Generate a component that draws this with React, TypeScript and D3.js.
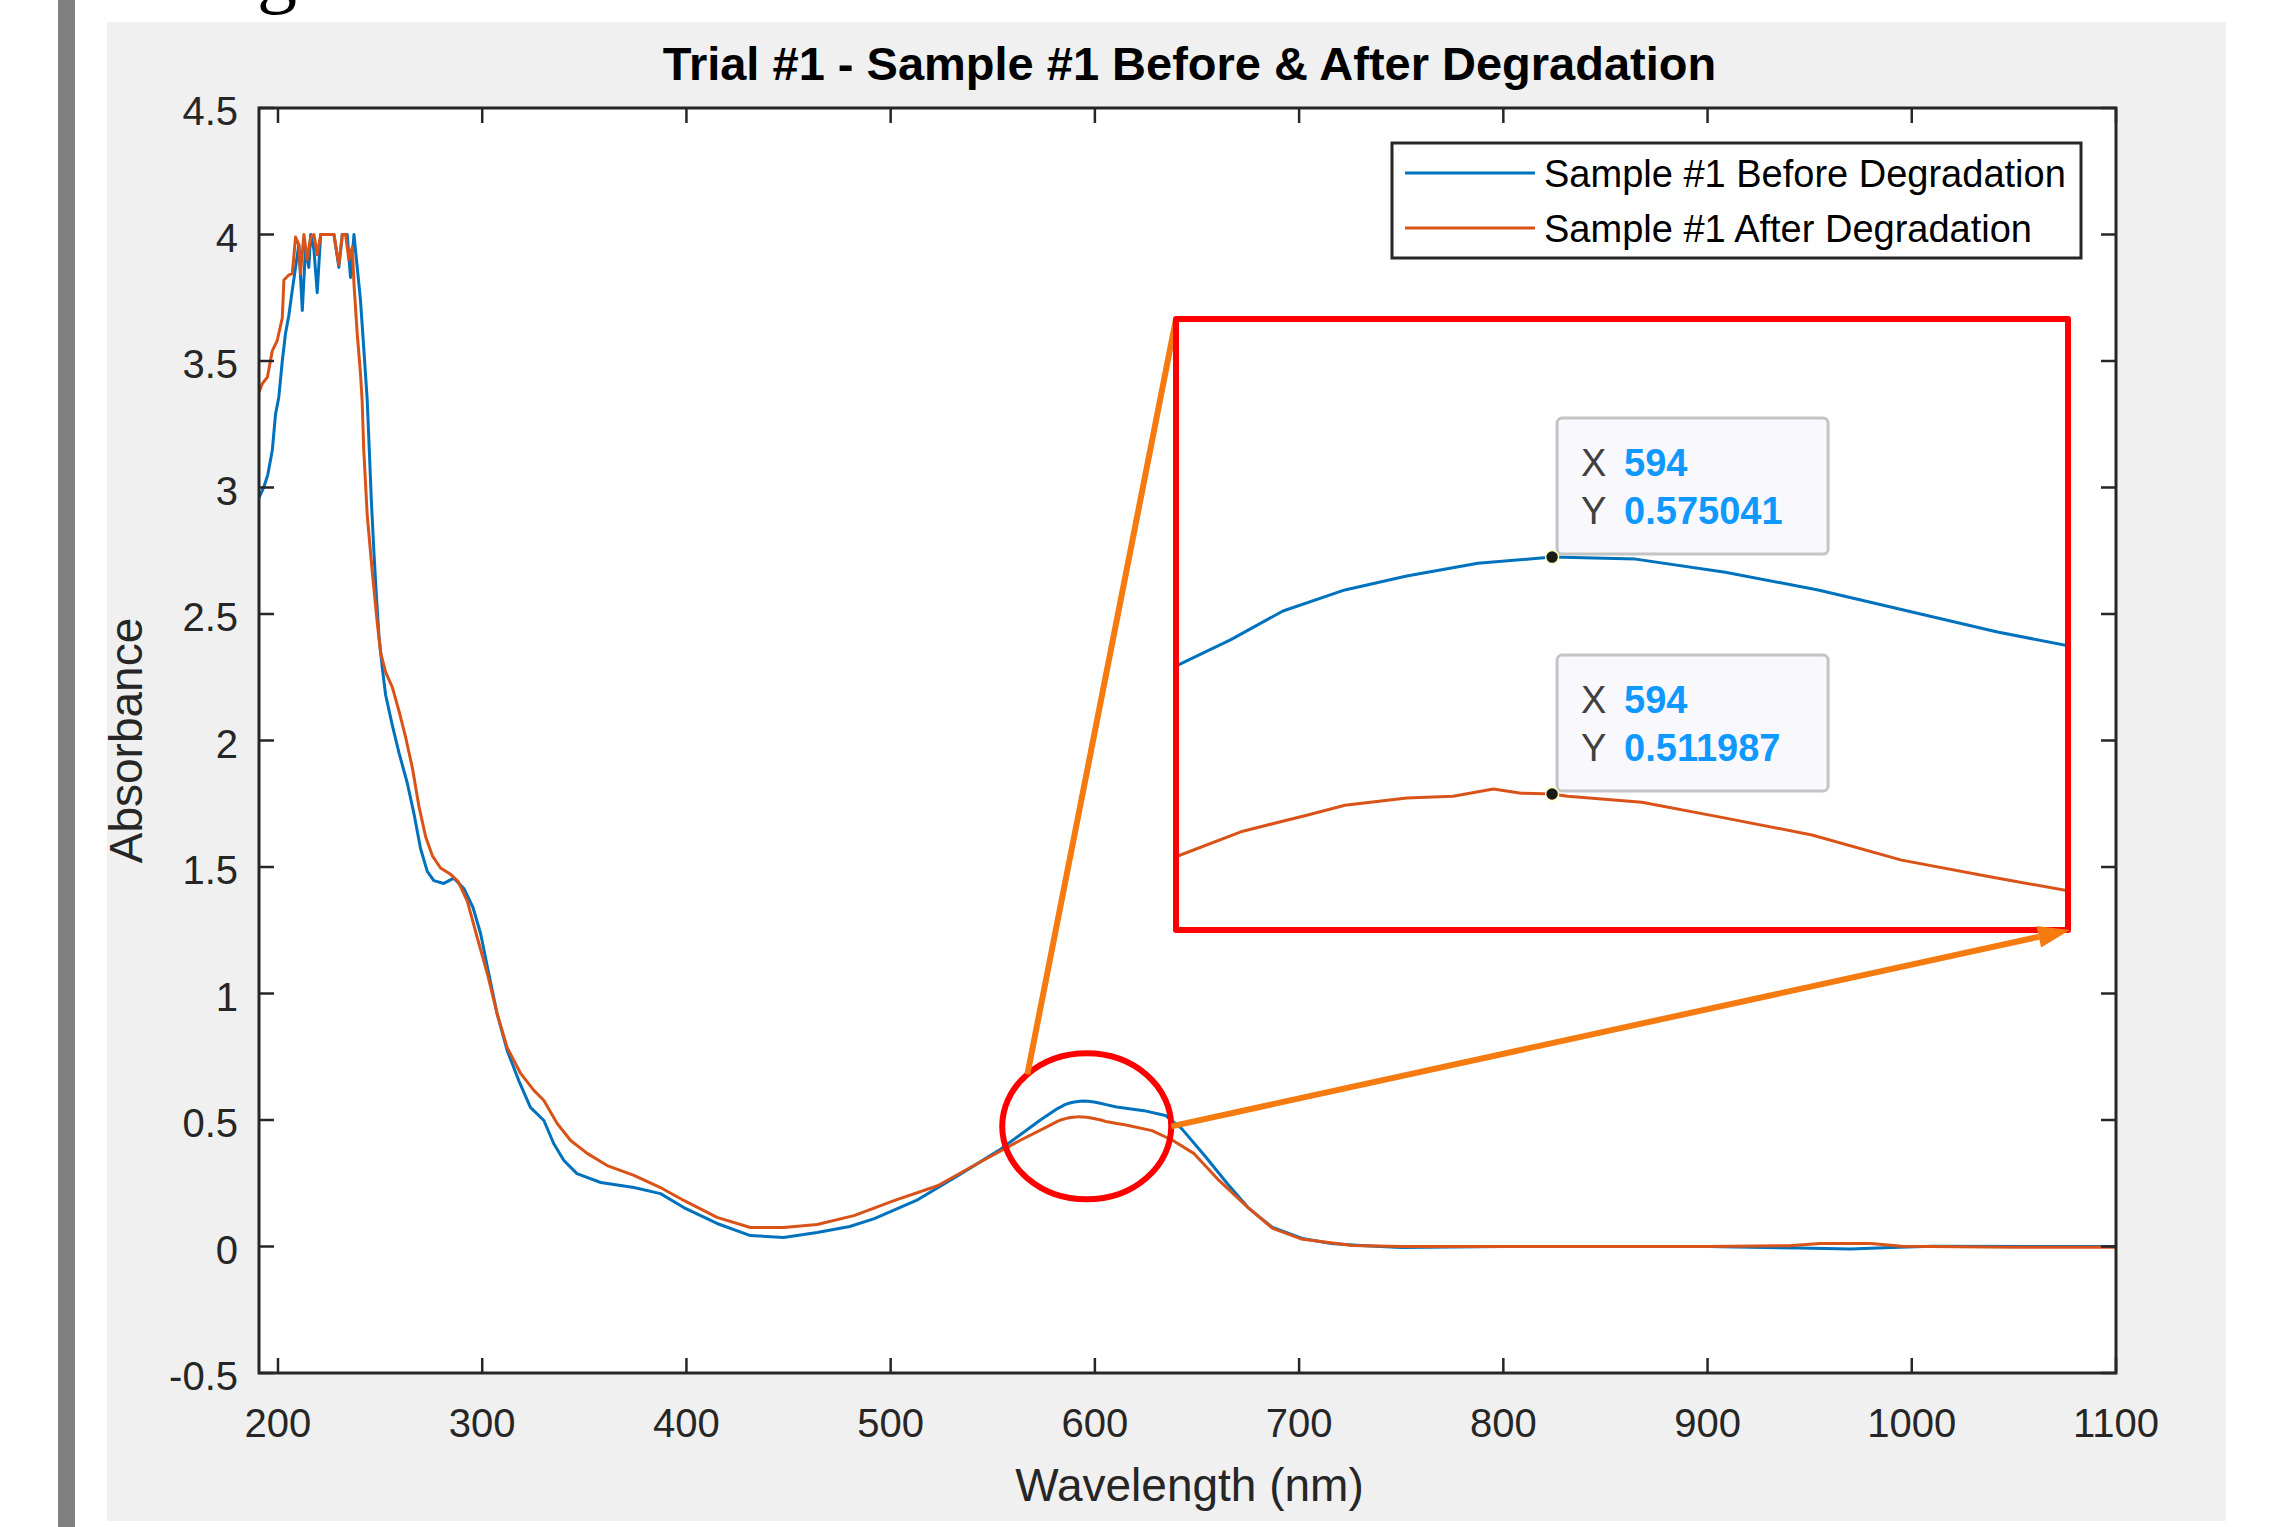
import React from 'react';
import * as d3 from 'd3';

// ---------- text ----------
const chartTitle = 'Trial #1 - Sample #1 Before & After Degradation';
const xAxisLabel = 'Wavelength (nm)';
const yAxisLabel = 'Absorbance';
const seriesNames = ['Sample #1 Before Degradation', 'Sample #1 After Degradation'];
const seriesColors = ['#0072BD', '#D95319'];

// ---------- ticks ----------
const xTicks = [200, 300, 400, 500, 600, 700, 800, 900, 1000, 1100];
const xTickLabels = ['200', '300', '400', '500', '600', '700', '800', '900', '1000', '1100'];
const yTicks = [-0.5, 0, 0.5, 1, 1.5, 2, 2.5, 3, 3.5, 4, 4.5];
const yTickLabels = ['-0.5', '0', '0.5', '1', '1.5', '2', '2.5', '3', '3.5', '4', '4.5'];

// ---------- series: before degradation ----------
const beforeWavelength = [
  190.7, 193, 195, 197.2, 198.8, 200.4, 202.1, 203.7, 205.3, 207, 208.6, 210.2, 211.9, 213.5, 215.1, 216,
  217.6, 219.2, 220.9, 227.4, 229.8, 231.5, 233.9, 235.5, 237.2, 238.8, 240.4, 242, 243.7, 244.5, 245.7,
  247, 248.3, 249.5, 251.1, 252.7, 256, 259.2, 263.3, 266.6, 269.8, 273.1, 276.3, 281.2, 286.1, 291,
  295.5, 299.2, 303.2, 307.3, 312.2, 317.9, 323.6, 330.2, 335, 340, 346.4, 358, 374.3, 387.3, 398.7,
  415, 431.3, 447.6, 464, 480, 492, 512.6, 532.9, 553, 573.3,
  581.9, 583.6, 585.3, 587.3, 589.3, 591.6, 594, 596.7, 599.6, 602.6, 605.5, 608.4, 610.7,
  624, 634.5, 642.5, 654.5, 664.8, 675, 687, 701.5, 715.7, 730, 750, 800, 850, 900, 945, 970, 990, 1010, 1100,
];
const beforeAbsorbance = [
  2.96, 3.0, 3.05, 3.146, 3.29, 3.357, 3.5, 3.61, 3.68, 3.78, 3.87, 3.96, 3.7, 3.95, 3.87, 4.0,
  3.94, 3.77, 4.0, 4.0, 3.87, 4.0, 4.0, 3.83, 4.0, 3.87, 3.74, 3.55, 3.344, 3.19, 2.95,
  2.74, 2.557, 2.407, 2.285, 2.18, 2.06, 1.953, 1.832, 1.71, 1.573, 1.483, 1.446, 1.435, 1.456, 1.415,
  1.34, 1.237, 1.079, 0.92, 0.775, 0.656, 0.55, 0.498, 0.407, 0.34, 0.288, 0.253, 0.233, 0.209, 0.154,
  0.091, 0.043, 0.036, 0.055, 0.079, 0.11, 0.182, 0.28, 0.38, 0.5,
  0.5463, 0.553, 0.5607, 0.5663, 0.57, 0.5734, 0.575041, 0.5745, 0.571, 0.5663, 0.5607, 0.5551, 0.5514,
  0.537, 0.518, 0.466, 0.352, 0.249, 0.154, 0.075, 0.032, 0.012, 0.004, -0.004, 0, 0, 0, -0.006, -0.01, -0.004, 0.001, 0,
];

// ---------- series: after degradation ----------
const afterWavelength = [
  190.7, 192.3, 194.8, 197.2, 199.6, 202.1, 202.9, 205.3, 207, 208.6, 210.2, 211, 212.7, 214.3, 216,
  217.6, 219.2, 220.9, 227.4, 229.8, 231.5, 233.1, 234.7, 236.4, 237.2, 238.8, 240.4, 241.2, 242,
  243.7, 246.2, 248.6, 250.3, 252.7, 256, 259.2, 262.5, 265.8, 269, 272.3, 275.6, 279.6, 284.5, 288.2,
  292.7, 297.6, 302.5, 307.3, 312.2, 318.8, 325.3, 330.2, 336.7, 343.3, 351.4, 361.2, 374.3, 387.3,
  398.7, 415, 431.3, 447.6, 464, 482, 502, 523, 543, 563.5, 577.7,
  581.9, 584.0, 586.1, 587.3, 589.3, 590.8, 592.1, 593.0, 594, 594.5, 596.9, 599.4, 602.4, 605.3, 608.2, 610.7,
  614, 628, 638, 648.6, 660.9, 675, 687, 701, 726, 750, 800, 900, 940, 955, 980, 995, 1050, 1100,
];
const afterAbsorbance = [
  3.377, 3.41, 3.436, 3.54, 3.58, 3.67, 3.82, 3.84, 3.845, 3.99, 3.96, 3.845, 4.0, 3.9, 3.99,
  4.0, 3.92, 4.0, 4.0, 3.88, 4.0, 4.0, 3.9, 3.95, 3.805, 3.607, 3.45, 3.344, 3.146,
  2.89, 2.664, 2.466, 2.345, 2.27, 2.21, 2.118, 2.013, 1.892, 1.74, 1.62, 1.544, 1.496, 1.471, 1.443,
  1.365, 1.22, 1.079, 0.92, 0.787, 0.684, 0.617, 0.577, 0.486, 0.419, 0.368, 0.32, 0.281, 0.233,
  0.182, 0.115, 0.075, 0.075, 0.087, 0.122, 0.182, 0.24, 0.33, 0.42, 0.478,
  0.4955, 0.5021, 0.5064, 0.509, 0.5109, 0.5114, 0.5133, 0.5122, 0.511987, 0.5114, 0.5098, 0.5059, 0.5011, 0.4944, 0.4899, 0.4862,
  0.482, 0.458, 0.42, 0.367, 0.26, 0.154, 0.072, 0.03, 0.004, 0, 0, 0, 0.003, 0.012, 0.012, 0.001, -0.003, -0.003,
];

// ---------- data tips ----------
const datatipX = [594, 594];
const datatipY = [0.575041, 0.511987];
const datatipXLabels = ['594', '594'];
const datatipYLabels = ['0.575041', '0.511987'];

const FONT = "'Liberation Sans', Arial, Helvetica, sans-serif";

export default function App() {
  const W = 2280;
  const H = 1527;
  const pl = 259, pr = 2116, pt = 108, pb = 1373;

  const x = d3.scaleLinear().domain([190.7, 1100]).range([pl, pr]);
  const y = d3.scaleLinear().domain([-0.5, 4.5]).range([pb, pt]);

  // inset (zoomed) axes
  const ir = { x0: 1176, y0: 319, x1: 2068, y1: 930 };
  const ix = d3.scaleLinear().domain([581.84, 610.68]).range([ir.x0, ir.x1]);
  const iy = d3.scaleLinear().domain([0.4758, 0.6384]).range([ir.y1, ir.y0]);

  const series = [
    { wl: beforeWavelength, ab: beforeAbsorbance, color: seriesColors[0] },
    { wl: afterWavelength, ab: afterAbsorbance, color: seriesColors[1] },
  ];

  const mainLine = (s) =>
    d3.line<number>().x((_, i) => x(s.wl[i])).y((v) => y(v))(s.ab) || '';
  const insetLine = (s) =>
    d3.line<number>().x((_, i) => ix(s.wl[i])).y((v) => iy(v))(s.ab) || '';

  const tickLen = 15;
  const axisColor = '#262626';

  // annotation ellipse around the peak
  const ecx = x(596);
  const ecy = y(0.475);
  const erx = 84.5;
  const ery = 73;
  const theta = (-134.6 * Math.PI) / 180;
  const l1s = [ecx + erx * Math.cos(theta), ecy + ery * Math.sin(theta)];
  const l1e = [ir.x0, ir.y0];
  const l2s = [ecx + erx, ecy];
  const l2e = [ir.x1 + 2, ir.y1];
  const ang = Math.atan2(l2e[1] - l2s[1], l2e[0] - l2s[0]);
  const ahL = 32, ahW = 11;
  const ahBase = [l2e[0] - ahL * Math.cos(ang), l2e[1] - ahL * Math.sin(ang)];
  const arrowPts = [
    l2e,
    [ahBase[0] + ahW * Math.sin(ang), ahBase[1] - ahW * Math.cos(ang)],
    [ahBase[0] - ahW * Math.sin(ang), ahBase[1] + ahW * Math.cos(ang)],
  ]
    .map((p) => p.join(','))
    .join(' ');
  const annoOrange = '#F57A0F';

  return (
    <svg
      width={W}
      height={H}
      viewBox={`0 0 ${W} ${H}`}
      style={{ position: 'absolute', left: 0, top: 0, background: '#ffffff' }}
      fontFamily={FONT}
    >
      <defs>
        <clipPath id="mainClip">
          <rect x={pl} y={pt} width={pr - pl} height={pb - pt} />
        </clipPath>
        <clipPath id="insetClip">
          <rect x={ir.x0} y={ir.y0} width={ir.x1 - ir.x0} height={ir.y1 - ir.y0} />
        </clipPath>
      </defs>

      <rect x={0} y={0} width={W} height={H} fill="#ffffff" />
      {/* document remnants */}
      <text x={257} y={-2} fontFamily="'Liberation Serif', 'Times New Roman', serif" fontSize={80} fill="#000">
        g
      </text>
      <rect x={58} y={0} width={17} height={H} fill="#808080" />

      {/* figure panel */}
      <rect x={107} y={22} width={2119} height={1499} fill="#f0f0f0" />

      {/* axes background */}
      <rect x={pl} y={pt} width={pr - pl} height={pb - pt} fill="#ffffff" />

      {/* title */}
      <text x={(pl + pr) / 2 + 2} y={80} textAnchor="middle" fontSize={47} fontWeight="bold" fill="#000">
        {chartTitle}
      </text>

      {/* data lines */}
      <g clipPath="url(#mainClip)">
        {series.map((s, i) => (
          <path key={i} d={mainLine(s)} fill="none" stroke={s.color} strokeWidth={3} strokeLinejoin="round" />
        ))}
      </g>

      {/* ticks */}
      <g stroke={axisColor} strokeWidth={2.5}>
        {xTicks.map((t) => (
          <g key={'xt' + t}>
            <line x1={x(t)} x2={x(t)} y1={pb} y2={pb - tickLen} />
            <line x1={x(t)} x2={x(t)} y1={pt} y2={pt + tickLen} />
          </g>
        ))}
        {yTicks.map((t) => (
          <g key={'yt' + t}>
            <line x1={pl} x2={pl + tickLen} y1={y(t)} y2={y(t)} />
            <line x1={pr} x2={pr - tickLen} y1={y(t)} y2={y(t)} />
          </g>
        ))}
      </g>
      <rect x={pl} y={pt} width={pr - pl} height={pb - pt} fill="none" stroke={axisColor} strokeWidth={3} />

      {/* tick labels */}
      <g fontSize={40} fill={axisColor}>
        {xTicks.map((t, i) => (
          <text key={'xl' + t} x={x(t)} y={1437} textAnchor="middle">
            {xTickLabels[i]}
          </text>
        ))}
        {yTicks.map((t, i) => (
          <text key={'yl' + t} x={238} y={y(t) + 17} textAnchor="end">
            {yTickLabels[i]}
          </text>
        ))}
      </g>

      {/* axis labels */}
      <text x={(pl + pr) / 2 + 2} y={1501} textAnchor="middle" fontSize={46} fill={axisColor}>
        {xAxisLabel}
      </text>
      <text transform={`translate(142, ${(pt + pb) / 2}) rotate(-90)`} textAnchor="middle" fontSize={46} fill={axisColor}>
        {yAxisLabel}
      </text>

      {/* legend */}
      <rect x={1392} y={143} width={689} height={115} fill="#ffffff" stroke={axisColor} strokeWidth={3} />
      {seriesNames.map((name, i) => (
        <g key={'lg' + i}>
          <line x1={1405} x2={1535} y1={173 + i * 55} y2={173 + i * 55} stroke={seriesColors[i]} strokeWidth={3} />
          <text x={1544} y={187 + i * 55} fontSize={38} fill="#000">
            {name}
          </text>
        </g>
      ))}

      {/* zoom annotation: ellipse + connectors */}
      <ellipse cx={ecx} cy={ecy} rx={erx} ry={ery} fill="none" stroke="#FF0000" strokeWidth={6} />
      <line x1={l1s[0]} y1={l1s[1]} x2={l1e[0]} y2={l1e[1]} stroke={annoOrange} strokeWidth={6} />
      <line x1={l2s[0]} y1={l2s[1]} x2={ahBase[0]} y2={ahBase[1]} stroke={annoOrange} strokeWidth={6} />

      {/* inset */}
      <rect x={ir.x0} y={ir.y0} width={ir.x1 - ir.x0} height={ir.y1 - ir.y0} fill="#ffffff" />
      <g clipPath="url(#insetClip)">
        {series.map((s, i) => (
          <path key={'in' + i} d={insetLine(s)} fill="none" stroke={s.color} strokeWidth={3} strokeLinejoin="round" />
        ))}
      </g>
      <rect
        x={ir.x0}
        y={ir.y0}
        width={ir.x1 - ir.x0}
        height={ir.y1 - ir.y0}
        fill="none"
        stroke="#FF0000"
        strokeWidth={6}
        strokeLinejoin="round"
      />
      <polygon points={arrowPts} fill={annoOrange} />

      {/* data tips */}
      {datatipX.map((dx, i) => {
        const mx = ix(dx);
        const my = iy(datatipY[i]);
        return (
          <g key={'dt' + i}>
            <rect x={mx + 5} y={my - 139} width={271} height={136} rx={5} fill="#f9f9fd" stroke="#c4c4c4" strokeWidth={3} />
            <text x={mx + 29} y={my - 81} fontSize={38} fill="#404040">
              X
            </text>
            <text x={mx + 72} y={my - 81} fontSize={38} fontWeight="bold" fill="#0f99ff">
              {datatipXLabels[i]}
            </text>
            <text x={mx + 29} y={my - 33} fontSize={38} fill="#404040">
              Y
            </text>
            <text x={mx + 72} y={my - 33} fontSize={38} fontWeight="bold" fill="#0f99ff">
              {datatipYLabels[i]}
            </text>
            <circle cx={mx} cy={my} r={6.5} fill="#1a1a1a" stroke="#ffffc0" strokeWidth={1.5} />
          </g>
        );
      })}
    </svg>
  );
}
